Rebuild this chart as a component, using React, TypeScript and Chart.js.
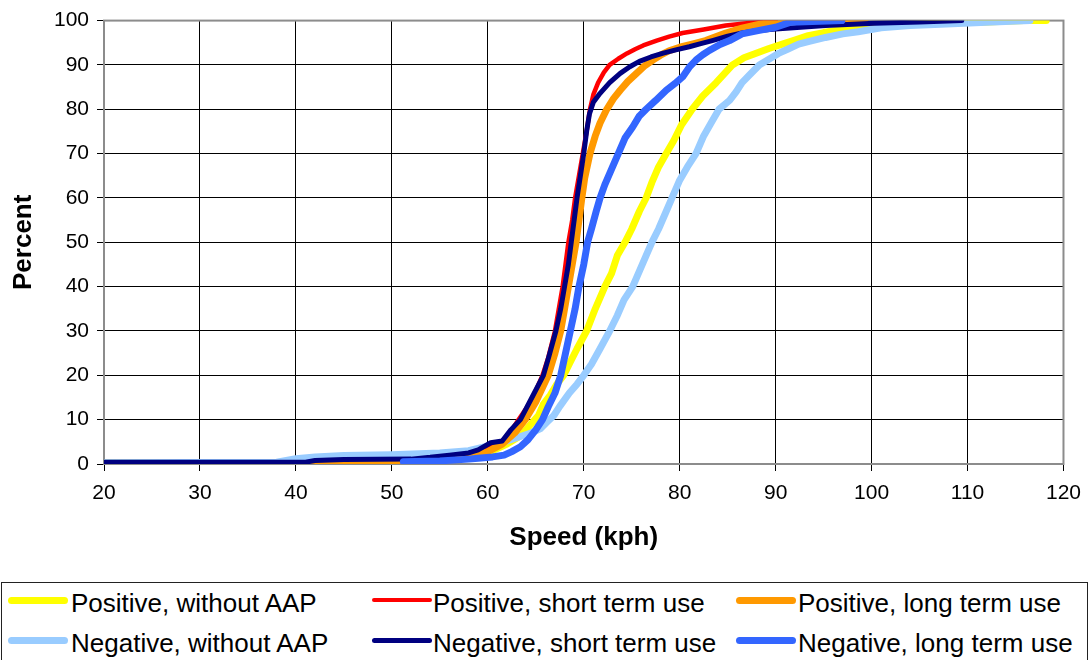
import React, { useEffect, useRef } from "react";
import { Chart, registerables } from "chart.js";

Chart.register(...registerables);

// Cumulative speed distributions: [speed (kph), percent]
const posWithoutAAP: number[][] = [
  [20, 0.2], [40, 0.3], [45, 0.6], [50, 0.8], [55, 1.2], [58, 1.8], [60, 2.5], [62, 4.5], [63.5, 6.5], [64.5, 9],
  [65.3, 11], [65.8, 13.5], [66.5, 15.5], [67.2, 18], [67.9, 20], [68.6, 23], [69.3, 26], [70.3, 30], [71.2, 35],
  [72.2, 40], [72.9, 43], [73.5, 47], [74.3, 50], [75, 53], [75.8, 57], [76.5, 60], [77.1, 63.5], [77.8, 67],
  [78.6, 70], [79.4, 73], [80.2, 76.5], [81.3, 80], [82.4, 83], [83.8, 86], [85.5, 90], [86.7, 91.6], [87.9, 92.6],
  [89.3, 93.7], [90.7, 94.7], [92, 95.6], [93.4, 96.6], [95, 97.3], [96.9, 98], [100.3, 98.9], [104, 99.2],
  [107.2, 99.4], [112, 99.7], [115.9, 100], [118.2, 100],
];
const negWithoutAAP: number[][] = [
  [20, 0.3], [38, 0.4], [40, 1.2], [42, 1.6], [45, 1.9], [50, 2.1], [55, 2.5], [58, 3.0], [60.3, 4.2], [62, 5.2],
  [63.4, 6.2], [64.5, 7.0], [65.5, 8.0], [66.2, 9.5], [66.9, 11], [67.5, 13], [68.5, 16], [69.3, 18], [70, 20],
  [70.8, 22.5], [71.7, 26], [72.7, 30], [73.5, 33.5], [74.2, 37], [75.1, 40], [75.8, 43.5], [76.5, 47], [77.1, 50],
  [77.8, 53], [78.6, 57], [79.2, 60], [80, 64], [80.8, 67], [81.7, 70], [82.5, 74], [83.3, 77], [84.1, 80],
  [85.2, 82], [85.9, 84], [86.5, 86], [87.4, 88], [88.3, 90], [89.3, 91.3], [90.3, 92.6], [91.3, 93.6], [92.4, 94.7],
  [93.5, 95.3], [95.2, 96.2], [97, 97], [98.6, 97.5], [101, 98.4], [104, 98.9], [107.2, 99.2], [112, 99.6], [116.5, 100],
];
const posShortTerm: number[][] = [
  [45, 0.5], [55, 1.2], [58, 2.0], [60, 3.5], [61, 4.5], [62, 6], [62.6, 8], [63.2, 10], [64, 12.5], [64.8, 15.5],
  [65.7, 20], [66.3, 24], [67, 30], [67.4, 35], [67.8, 40], [68.1, 45], [68.4, 50], [68.8, 55], [69.1, 60],
  [69.5, 65], [69.9, 70], [70.3, 75], [70.65, 80], [71.0, 83.3], [71.5, 86], [72.1, 88.3], [72.7, 90], [73.6, 91.4],
  [74.5, 92.6], [75.4, 93.6], [76.2, 94.4], [77.6, 95.5], [78.9, 96.4], [80.3, 97.2], [82.5, 98], [84.8, 98.9],
  [87, 99.4], [90, 100],
];
const negShortTerm: number[][] = [
  [20, 0.4], [41, 0.4], [42, 0.8], [45, 1.0], [52, 1.1], [54, 1.5], [56, 2.0], [58, 2.5], [59, 3.2], [60.3, 4.8],
  [61.5, 5.2], [62.4, 7.7], [63.4, 10], [64.6, 15], [65.8, 20], [66.4, 24.5], [67.1, 30], [67.6, 35], [68, 40],
  [68.4, 45], [68.7, 50], [69, 55], [69.3, 60], [69.65, 65], [70, 70], [70.3, 75], [70.6, 79], [71.0, 81.6],
  [71.7, 83.6], [72.7, 86], [73.8, 88.1], [74.8, 89.6], [75.8, 90.8], [77, 91.8], [78.2, 92.6], [79.6, 93.4],
  [81, 94.1], [82.2, 94.8], [83.4, 95.5], [85, 96.5], [86.5, 97.2], [88, 97.7], [90, 98.1], [95.2, 98.9],
  [100.3, 99.4], [105, 99.7], [109.4, 100],
];
const posLongTerm: number[][] = [
  [41.5, 0.2], [50, 0.3], [55, 0.8], [58, 1.5], [60, 2.8], [61.5, 4.5], [62.8, 7], [63.9, 10], [65, 14], [66.3, 20],
  [67, 25], [67.6, 30], [68, 35], [68.4, 40], [68.8, 45], [69.2, 50], [69.5, 55], [69.8, 60], [70.1, 64.5],
  [70.65, 70], [71.2, 74], [71.7, 76.9], [72.4, 80], [73.1, 82.4], [73.8, 84.3], [74.6, 86.3], [75.5, 88.1],
  [76.3, 89.7], [77.2, 91.1], [78, 92.2], [78.9, 93.2], [80, 94], [81.3, 94.7], [82.7, 95.5], [84.8, 97.2],
  [86.5, 98.3], [88, 99], [89.3, 99.6], [91.2, 100], [99.3, 100],
];
const negLongTerm: number[][] = [
  [51.2, 0.5], [55, 0.7], [58, 1.1], [59, 1.3], [60.5, 1.6], [61.7, 2.0], [62.5, 2.8], [63.4, 3.9], [64.2, 5.5],
  [65, 7.7], [65.7, 10], [66.3, 12.9], [67, 16], [67.6, 20], [68.1, 25], [68.6, 30], [69.1, 35], [69.5, 40], [70, 45],
  [70.4, 50], [70.8, 53], [71.3, 57], [71.7, 60], [72.2, 63], [72.9, 66.5], [73.6, 70], [74.3, 73.5], [75.1, 76],
  [75.8, 78.5], [76.5, 80], [77.5, 82], [78.6, 84.3], [79.5, 85.8], [80.3, 87.3], [81, 89.5], [81.7, 91.1],
  [82.4, 92.3], [83.1, 93.3], [84.2, 94.6], [85.2, 95.5], [86.5, 97], [88.3, 97.8], [90, 98.5], [91.5, 99.6],
  [96.9, 100],
];

const seriesNames = [
  "Positive, without AAP",
  "Positive, short term use",
  "Positive, long term use",
  "Negative, without AAP",
  "Negative, short term use",
  "Negative, long term use",
];
const seriesData = [posWithoutAAP, posShortTerm, posLongTerm, negWithoutAAP, negShortTerm, negLongTerm];
const seriesColors = ["#FFFF00", "#FF0000", "#FF9900", "#99CCFF", "#000080", "#3366FF"];
const seriesWidths = [7, 4.5, 7, 7, 5, 7];
// draw order from top (first) to bottom
const drawOrder = [5, 4, 2, 1, 3, 0];

const xTitle = "Speed (kph)";
const yTitle = "Percent";

const FONT = "'Liberation Sans', Arial, sans-serif";

const borderPlugin = {
  id: "plotBorder",
  beforeDatasetsDraw(chart: any) {
    const { ctx, chartArea } = chart;
    ctx.save();
    ctx.strokeStyle = "#8c8c8c";
    ctx.lineWidth = 2;
    ctx.strokeRect(chartArea.left, chartArea.top, chartArea.right - chartArea.left, chartArea.bottom - chartArea.top);
    ctx.restore();
  },
};

export default function App() {
  const ref = useRef<HTMLCanvasElement | null>(null);

  useEffect(() => {
    if (!ref.current) return;
    const datasets = seriesData.map((d, i) => ({
      label: seriesNames[i],
      data: d.map((p) => ({ x: p[0], y: p[1] })),
      borderColor: seriesColors[i],
      backgroundColor: seriesColors[i],
      borderWidth: seriesWidths[i],
      pointRadius: 0,
      tension: 0,
      fill: false,
      borderJoinStyle: "round" as const,
      borderCapStyle: "round" as const,
      order: drawOrder.indexOf(i),
    }));
    const chart = new Chart(ref.current, {
      type: "line",
      data: { datasets },
      plugins: [borderPlugin],
      options: {
        animation: false,
        responsive: false,
        devicePixelRatio: 1,
        layout: { padding: { left: 0, right: 21, top: 20, bottom: 0 } },
        plugins: { legend: { display: false }, tooltip: { enabled: false } },
        scales: {
          x: {
            type: "linear",
            min: 20,
            max: 120,
            afterFit: (s: any) => {
              s.height = 116;
            },
            ticks: {
              stepSize: 10,
              autoSkip: false,
              color: "#000",
              padding: 10,
              maxRotation: 0,
              font: { family: FONT, size: 21 },
            },
            grid: { color: "#000", lineWidth: 1, tickLength: 7, drawTicks: true },
            border: { display: true, color: "#8c8c8c", width: 2 },
            title: {
              display: true,
              text: xTitle,
              color: "#000",
              font: { family: FONT, size: 26, weight: "bold" },
              padding: { top: 0, bottom: 27 },
            },
          },
          y: {
            type: "linear",
            min: 0,
            max: 100,
            afterFit: (s: any) => {
              s.width = 104;
            },
            ticks: {
              stepSize: 10,
              autoSkip: false,
              color: "#000",
              padding: 8,
              font: { family: FONT, size: 21 },
            },
            grid: { color: "#000", lineWidth: 1, tickLength: 7, drawTicks: true },
            border: { display: true, color: "#8c8c8c", width: 2 },
            title: {
              display: true,
              text: yTitle,
              color: "#000",
              font: { family: FONT, size: 26, weight: "bold" },
              padding: { top: 8, bottom: 0 },
            },
          },
        },
      },
    });
    return () => chart.destroy();
  }, []);

  const colX = [[8, 71], [372, 433], [736, 798]];
  const rowY = [600, 640];

  return (
    <div style={{ position: "absolute", left: 0, top: 0, width: 1091, height: 660, overflow: "hidden", background: "#fff" }}>
      <canvas ref={ref} width={1091} height={580} style={{ position: "absolute", left: 0, top: 0, width: 1091, height: 580 }} />
      <div
        style={{
          position: "absolute",
          left: 1,
          top: 582,
          width: 1087,
          height: 100,
          border: "1px solid #222",
          boxSizing: "border-box",
        }}
      />
      {seriesNames.map((name, i) => {
        const col = i % 3;
        const row = Math.floor(i / 3);
        const [sx, tx] = colX[col];
        const y = rowY[row];
        const w = seriesWidths[i];
        return (
          <React.Fragment key={name}>
            <div
              style={{
                position: "absolute",
                left: sx,
                top: y - w / 2,
                width: 60,
                height: w,
                borderRadius: w / 2,
                background: seriesColors[i],
              }}
            />
            <div
              style={{
                position: "absolute",
                left: tx,
                top: y - 10,
                fontFamily: FONT,
                fontSize: 26,
                lineHeight: "26px",
                color: "#000",
                whiteSpace: "nowrap",
              }}
            >
              {name}
            </div>
          </React.Fragment>
        );
      })}
    </div>
  );
}
